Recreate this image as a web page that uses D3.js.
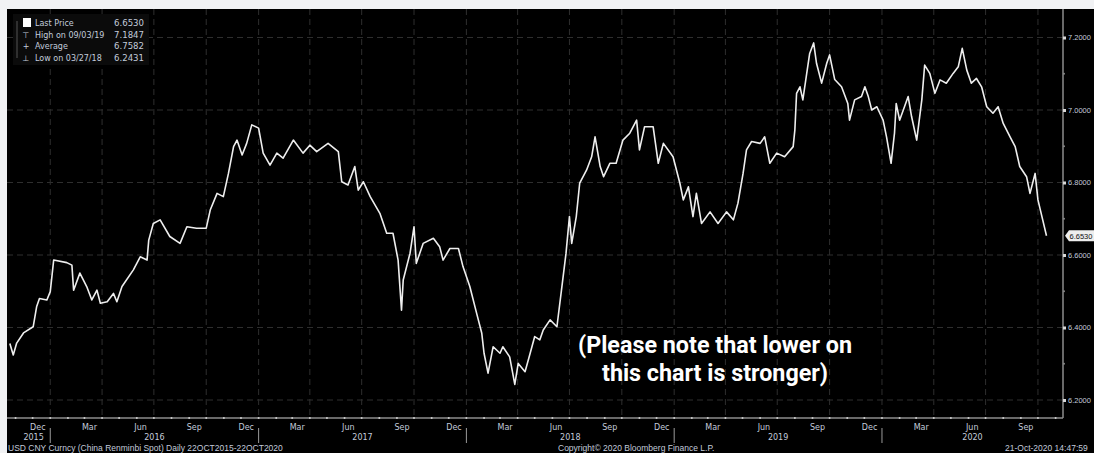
<!DOCTYPE html>
<html>
<head>
<meta charset="utf-8">
<script src="https://cdn.jsdelivr.net/npm/d3@7"></script>
<style>
body { margin: 0; background: #f1f2f4; }
svg { display: block; }
</style>
</head>
<body>
<script>
// USD/CNY daily (approximate)
var dates = ["2015-10-22","2015-10-28","2015-11-03","2015-11-15","2015-12-02","2015-12-08","2015-12-13","2015-12-26",
  "2016-01-01","2016-01-07","2016-01-30","2016-02-08","2016-02-11","2016-02-22","2016-03-05","2016-03-14","2016-03-23","2016-03-29",
  "2016-04-10","2016-04-21","2016-04-27","2016-05-06","2016-05-26","2016-06-07","2016-06-19","2016-06-22","2016-06-30","2016-07-12",
  "2016-07-29","2016-08-16","2016-08-28","2016-09-14","2016-10-01","2016-10-08","2016-10-20","2016-10-31","2016-11-09","2016-11-18",
  "2016-11-24","2016-12-03","2016-12-11","2016-12-20","2017-01-01","2017-01-09","2017-01-21","2017-02-02","2017-02-13","2017-03-03",
  "2017-03-20","2017-04-01","2017-04-13","2017-05-03","2017-05-21","2017-05-27","2017-06-07","2017-06-19","2017-06-25","2017-07-04",
  "2017-07-16","2017-08-02","2017-08-14","2017-08-25","2017-09-03","2017-09-09","2017-09-12","2017-09-24","2017-10-01","2017-10-05",
  "2017-10-17","2017-11-04","2017-11-15","2017-11-21","2017-12-03","2017-12-18","2017-12-26","2018-01-07","2018-01-19","2018-01-28",
  "2018-02-01","2018-02-08","2018-02-17","2018-03-01","2018-03-06","2018-03-18","2018-03-27","2018-04-02","2018-04-14","2018-04-23",
  "2018-05-01","2018-05-10","2018-05-16","2018-05-28","2018-06-09","2018-06-17","2018-06-25","2018-07-01","2018-07-05","2018-07-13",
  "2018-07-19","2018-07-31","2018-08-09","2018-08-15","2018-08-24","2018-08-30","2018-09-10","2018-09-21","2018-10-03","2018-10-15",
  "2018-10-27","2018-11-01","2018-11-10","2018-11-25","2018-12-04","2018-12-13","2018-12-30","2019-01-11","2019-01-17","2019-01-26",
  "2019-02-03","2019-02-09","2019-02-18","2019-03-05","2019-03-19","2019-04-03","2019-04-15","2019-04-23","2019-05-02","2019-05-08",
  "2019-05-17","2019-06-01","2019-06-09","2019-06-18","2019-06-30","2019-07-14","2019-07-29","2019-08-01","2019-08-04","2019-08-10",
  "2019-08-15","2019-08-21","2019-08-27","2019-09-03","2019-09-08","2019-09-17","2019-09-26","2019-10-01","2019-10-10","2019-10-22",
  "2019-11-02","2019-11-05","2019-11-14","2019-11-26","2019-12-02","2019-12-08","2019-12-14","2019-12-23","2020-01-03","2020-01-09",
  "2020-01-17","2020-01-23","2020-01-26","2020-02-01","2020-02-16","2020-02-22","2020-03-02","2020-03-11","2020-03-16","2020-03-25",
  "2020-04-03","2020-04-12","2020-04-23","2020-05-05","2020-05-14","2020-05-21","2020-05-29","2020-06-06","2020-06-15","2020-06-24",
  "2020-07-03","2020-07-14","2020-07-23","2020-08-01","2020-08-13","2020-08-22","2020-08-30","2020-09-11","2020-09-17","2020-09-26",
  "2020-10-01","2020-10-08","2020-10-16"];
var prices = [6.356,6.324,6.357,6.385,6.402,6.457,6.480,6.476,
  6.499,6.586,6.579,6.572,6.503,6.550,6.513,6.476,6.503,6.467,
  6.471,6.494,6.471,6.513,6.559,6.595,6.586,6.641,6.687,6.697,
  6.651,6.632,6.678,6.674,6.674,6.724,6.770,6.761,6.825,6.899,
  6.917,6.876,6.908,6.959,6.950,6.881,6.848,6.881,6.867,6.917,
  6.881,6.903,6.885,6.908,6.885,6.802,6.793,6.844,6.779,6.802,
  6.761,6.715,6.660,6.660,6.586,6.448,6.531,6.605,6.678,6.577,
  6.632,6.646,6.623,6.586,6.618,6.618,6.568,6.513,6.439,6.384,
  6.329,6.274,6.347,6.329,6.347,6.319,6.243,6.301,6.278,6.329,
  6.375,6.366,6.393,6.421,6.402,6.503,6.605,6.706,6.632,6.706,
  6.798,6.834,6.871,6.926,6.844,6.816,6.853,6.853,6.917,6.936,
  6.972,6.890,6.954,6.954,6.853,6.908,6.871,6.798,6.752,6.788,
  6.706,6.770,6.687,6.719,6.687,6.719,6.697,6.743,6.825,6.890,
  6.913,6.908,6.926,6.853,6.881,6.871,6.899,6.945,7.046,7.064,
  7.028,7.092,7.156,7.185,7.129,7.074,7.129,7.152,7.084,7.064,
  7.018,6.972,7.028,7.037,7.064,7.037,7.000,7.009,6.972,6.926,
  6.853,6.936,7.018,6.972,7.037,6.982,6.917,7.028,7.124,7.101,
  7.046,7.083,7.074,7.101,7.119,7.170,7.110,7.074,7.087,7.064,
  7.009,6.991,7.009,6.963,6.926,6.899,6.844,6.816,6.770,6.825,
  6.752,6.706,6.653];

var yTicks = [6.2, 6.4, 6.6, 6.8, 7.0, 7.2];
var yMinor = [6.3, 6.5, 6.7, 6.9, 7.1];
var labelMonths = [11, 2, 5, 8]; // Dec Mar Jun Sep
var legendNames = ["Last Price", "High on 09/03/19", "Average", "Low on 03/27/18"];
var legendValues = ["6.6530", "7.1847", "6.7582", "6.2431"];
var legendMarks = ["", "\u22A4", "+", "\u22A5"];
var lastPrice = 6.653;
var noteLines = ["(Please note that lower on", "this chart is stronger)"];
var footLeft = "USD CNY Curncy (China Renminbi Spot)  Daily 22OCT2015-22OCT2020";
var footMid = "Copyright\u00A9 2020 Bloomberg Finance L.P.";
var footRight = "21-Oct-2020 14:47:59";

var width = 1094, height = 453;
var pL = 7, pT = 9, pR = 1063, pB = 418;
var txtCol = "#c3cbdb";
var gridCol = "#2e2e2e";

var svg = d3.select("body").append("svg").attr("width", width).attr("height", height);
svg.append("rect").attr("x", pL).attr("y", pT).attr("width", width - pL).attr("height", height - pT).attr("fill", "#000");

var parse = d3.timeParse("%Y-%m-%d");
var data = dates.map((d, i) => ({date: parse(d), v: prices[i]}));

var x = d3.scaleTime()
    .domain([new Date(2015, 9, 17), new Date(2020, 10, 14)])
    .range([pL, pR]);
var y = d3.scaleLinear().domain([6.2, 7.2]).range([400, 37.5]);

// grid
svg.append("g").selectAll("line").data(yTicks).enter().append("line")
    .attr("x1", pL).attr("x2", pR)
    .attr("y1", d => y(d)).attr("y2", d => y(d))
    .attr("stroke", gridCol).attr("stroke-dasharray", "6,4");
svg.append("g").selectAll("line").data(d3.timeMonth.every(3).range(x.domain()[0], x.domain()[1])).enter().append("line")
    .attr("x1", d => x(d)).attr("x2", d => x(d))
    .attr("y1", pT).attr("y2", pB)
    .attr("stroke", gridCol).attr("stroke-dasharray", "6,4");

// legend
var lg = svg.append("g").attr("font-family", "DejaVu Sans").attr("font-size", 8).attr("fill", txtCol);
lg.append("rect").attr("x", 13).attr("y", 14).attr("width", 136).attr("height", 51).attr("fill", "#0b0b0b");
lg.append("line").attr("x1", 17).attr("x2", 17).attr("y1", 21).attr("y2", 58).attr("stroke", "#555");
legendNames.forEach(function (n, i) {
    var yy = 26 + i * 11.5;
    if (i == 0) lg.append("rect").attr("x", 23).attr("y", yy - 8).attr("width", 8).attr("height", 9).attr("fill", "#fff");
    else lg.append("text").attr("x", 26).attr("y", yy).attr("text-anchor", "middle").text(legendMarks[i]);
    lg.append("text").attr("x", 35).attr("y", yy).text(n);
    lg.append("text").attr("x", 114).attr("y", yy).attr("textLength", 30).attr("lengthAdjust", "spacingAndGlyphs").text(legendValues[i]);
});

// price line
var line = d3.line().x(d => x(d.date)).y(d => y(d.v));
svg.append("path").datum(data).attr("d", line)
    .attr("fill", "none").attr("stroke", "#eeeeee").attr("stroke-width", 1.6).attr("stroke-linejoin", "round");

// axes frame
svg.append("line").attr("x1", pL).attr("x2", pR).attr("y1", pB).attr("y2", pB).attr("stroke", "#8c8c8c").attr("stroke-width", 1.5);
svg.append("line").attr("x1", pR).attr("x2", pR).attr("y1", pT).attr("y2", pB).attr("stroke", "#8c8c8c").attr("stroke-width", 1.5);

// right axis
var yAxis = svg.append("g").attr("transform", "translate(" + pR + ",0)")
    .call(d3.axisRight(y).tickValues(yTicks).tickFormat(d3.format(".4f")).tickSize(3).tickPadding(2));
yAxis.select(".domain").remove();
yAxis.selectAll(".tick line").attr("stroke", "#d8d8d8").attr("stroke-width", 3);
yAxis.selectAll("text").attr("fill", txtCol).attr("font-family", "Liberation Sans").attr("font-size", 7.5);
svg.append("g").selectAll("circle").data(yMinor).enter().append("circle")
    .attr("cx", pR + 1).attr("cy", d => y(d)).attr("r", 1).attr("fill", "#888");

// last price tag
var ly = y(lastPrice);
svg.append("path")
    .attr("d", "M" + (pR + 2) + "," + ly + "L" + (pR + 6) + "," + (ly - 5.5) + "H" + width + "V" + (ly + 5.5) + "H" + (pR + 6) + "Z")
    .attr("fill", "#eeeeee");
svg.append("text").attr("x", pR + 6.5).attr("y", ly + 3).attr("font-family", "Liberation Sans").attr("font-size", 7.5)
    .attr("fill", "#111").text(lastPrice.toFixed(4));

// bottom axis: month dots + labels
var months = d3.timeMonth.range(x.domain()[0], x.domain()[1]);
svg.append("g").selectAll("circle").data(months).enter().append("circle")
    .attr("cx", d => x(d)).attr("cy", pB).attr("r", 1).attr("fill", "#cfcfcf");
var xAxis = svg.append("g").attr("transform", "translate(0," + pB + ")")
    .call(d3.axisBottom(x).tickValues(months.filter(d => labelMonths.indexOf(d.getMonth()) >= 0))
        .tickFormat(d3.timeFormat("%b")).tickSize(0).tickPadding(6));
xAxis.select(".domain").remove();
xAxis.selectAll("text").attr("text-anchor", "start").attr("dx", -3)
    .attr("fill", txtCol).attr("font-family", "DejaVu Sans").attr("font-size", 8);

// year separators and labels
var yearStarts = d3.timeYear.range(x.domain()[0], x.domain()[1]);
svg.append("g").selectAll("line").data(yearStarts).enter().append("line")
    .attr("x1", d => x(d)).attr("x2", d => x(d)).attr("y1", 428).attr("y2", 443)
    .attr("stroke", "#9a9a9a");
var yearSpans = [x.domain()[0]].concat(yearStarts);
svg.append("g").selectAll("text").data(yearSpans).enter().append("text")
    .attr("x", function (d) {
        var a = Math.max(x(d), pL), b = Math.min(x(d3.timeYear.offset(d3.timeYear.floor(d), 1)), pR);
        return (a + b) / 2 + (x(d) < 50 ? 5 : 0);
    })
    .attr("y", 440).attr("text-anchor", "middle")
    .attr("fill", txtCol).attr("font-family", "DejaVu Sans").attr("font-size", 8)
    .text(d => d.getFullYear());

// footer
var ft = svg.append("g").attr("font-family", "Liberation Sans").attr("font-size", 8.5).attr("fill", txtCol);
ft.append("text").attr("x", 8).attr("y", 451).text(footLeft);
ft.append("text").attr("x", 558).attr("y", 451).text(footMid);
ft.append("text").attr("x", 1005).attr("y", 451).text(footRight);

// note
var note = svg.append("g").attr("font-family", "Roboto").attr("font-weight", "bold").attr("font-size", 23).attr("fill", "#fff").attr("text-anchor", "middle");
note.append("text").attr("x", 715).attr("y", 353).attr("textLength", 274).attr("lengthAdjust", "spacingAndGlyphs").text(noteLines[0]);
note.append("text").attr("x", 715).attr("y", 381).attr("textLength", 226).attr("lengthAdjust", "spacingAndGlyphs").text(noteLines[1]);
</script>
</body>
</html>
